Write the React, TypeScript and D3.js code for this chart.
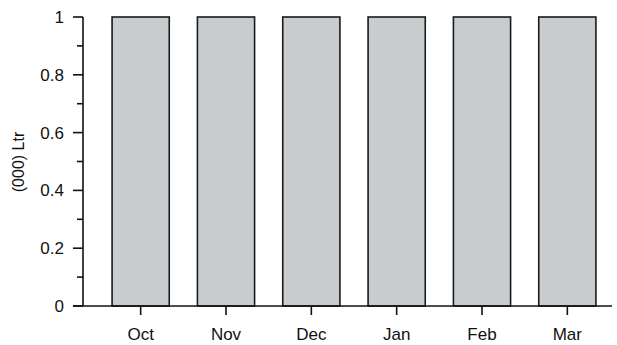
import React, { useRef, useEffect } from 'react';
import * as d3 from 'd3';

const WIDTH = 617;
const HEIGHT = 345;

const months = ['Oct', 'Nov', 'Dec', 'Jan', 'Feb', 'Mar'];
const volumes = [1, 1, 1, 1, 1, 1];
const yTicks = [0, 0.2, 0.4, 0.6, 0.8, 1];
const yMinorTicks = [0.1, 0.3, 0.5, 0.7, 0.9];

const FONT = 'Liberation Sans, Arial, sans-serif';

const App: React.FC = () => {
  const svgRef = useRef<SVGSVGElement>(null);

  useEffect(() => {
    if (!svgRef.current) return;
    const svg = d3.select(svgRef.current);
    svg.selectAll('*').remove();

    const axisX = 83;
    const x = d3.scaleBand<string>().domain(months).range([98, 610]).paddingInner(0.33).paddingOuter(0.165);
    const y = d3.scaleLinear().domain([0, 1]).range([306, 17]);

    // bars
    svg
      .append('g')
      .selectAll('rect')
      .data(volumes)
      .join('rect')
      .attr('x', (_, i) => x(months[i]) ?? 0)
      .attr('y', (d) => y(d))
      .attr('width', x.bandwidth())
      .attr('height', (d) => y(0) - y(d))
      .attr('fill', '#c9ccce')
      .attr('stroke', '#1a1a1a')
      .attr('stroke-width', 1.6);

    // y axis
    const ya = svg.append('g').attr('stroke', '#111').attr('stroke-width', 1.6);
    ya.append('line').attr('x1', axisX).attr('x2', axisX).attr('y1', y(1)).attr('y2', y(0));
    yTicks.forEach((t) => {
      ya.append('line').attr('x1', axisX - 10).attr('x2', axisX).attr('y1', y(t)).attr('y2', y(t));
    });
    yMinorTicks.forEach((t) => {
      ya.append('line').attr('x1', axisX - 6).attr('x2', axisX).attr('y1', y(t)).attr('y2', y(t));
    });
    svg
      .append('g')
      .selectAll('text')
      .data(yTicks)
      .join('text')
      .attr('x', 64)
      .attr('y', (d) => y(d) + 6)
      .attr('text-anchor', 'end')
      .attr('font-family', FONT)
      .attr('font-size', '17px')
      .attr('fill', '#111')
      .text((d) => String(d));

    // x axis
    const xa = svg.append('g').attr('stroke', '#111').attr('stroke-width', 1.6);
    xa.append('line').attr('x1', axisX - 10).attr('x2', 612).attr('y1', y(0)).attr('y2', y(0));
    months.forEach((m) => {
      const cx = (x(m) ?? 0) + x.bandwidth() / 2;
      xa.append('line').attr('x1', cx).attr('x2', cx).attr('y1', y(0)).attr('y2', y(0) + 9);
    });
    svg
      .append('g')
      .selectAll('text')
      .data(months)
      .join('text')
      .attr('x', (d) => (x(d) ?? 0) + x.bandwidth() / 2)
      .attr('y', 340)
      .attr('text-anchor', 'middle')
      .attr('font-family', FONT)
      .attr('font-size', '17px')
      .attr('fill', '#111')
      .text((d) => d);

    // y label
    svg
      .append('text')
      .attr('transform', 'translate(24, 162) rotate(-90)')
      .attr('text-anchor', 'middle')
      .attr('font-family', FONT)
      .attr('font-size', '16px')
      .attr('fill', '#111')
      .text('(000) Ltr');
  }, []);

  return <svg ref={svgRef} width={WIDTH} height={HEIGHT} style={{ position: 'absolute', left: 0, top: 0 }} />;
};

export default App;
